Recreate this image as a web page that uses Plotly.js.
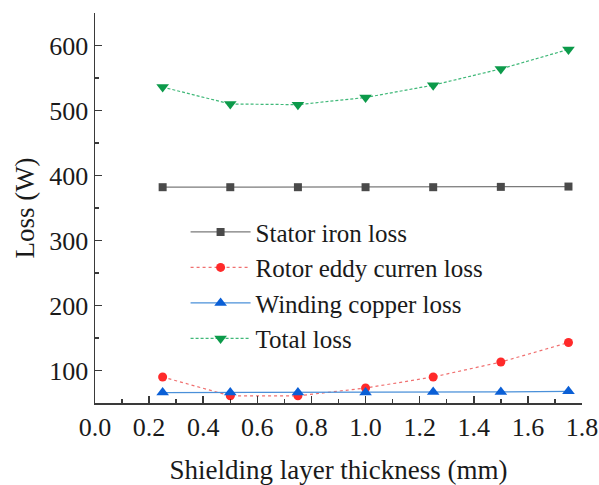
<!DOCTYPE html>
<html>
<head>
<meta charset="utf-8">
<script src="https://cdn.plot.ly/plotly-3.0.1.min.js"></script>
<style>html,body{margin:0;padding:0;background:#fff;}#chart{width:599px;height:485px;}</style>
</head>
<body>
<div id="chart"></div>
<script>
const thickness = [0.25, 0.5, 0.75, 1.0, 1.25, 1.5, 1.75];
const statorIronLoss = [382, 382, 382, 382, 382, 382.5, 383];
const rotorEddyLoss = [90, 61, 61, 73, 90, 113, 143];
const windingCopperLoss = [66, 66, 66, 66, 67, 67, 68];
const totalLoss = [536, 510, 509, 520, 539, 564, 594];
const seriesNames = ["Stator iron loss", "Rotor eddy curren loss", "Winding copper loss", "Total loss"];

const font = "'Liberation Serif', 'Times New Roman', serif";
const traces = [
  {x: thickness, y: statorIronLoss, name: seriesNames[0], mode: "lines+markers",
   line: {color: "#7a7a7a", width: 1.2}, marker: {symbol: "square", size: 8, color: "#4a4a4a"}},
  {x: thickness, y: rotorEddyLoss, name: seriesNames[1], mode: "lines+markers",
   line: {color: "#f07070", width: 1.2, dash: "dot"}, marker: {symbol: "circle", size: 9, color: "#ff2a2a"}},
  {x: thickness, y: windingCopperLoss, name: seriesNames[2], mode: "lines+markers",
   line: {color: "#4a90d9", width: 1.2}, marker: {symbol: "triangle-up", size: 11, color: "#0a5fd6"}},
  {x: thickness, y: totalLoss, name: seriesNames[3], mode: "lines+markers",
   line: {color: "#3fb878", width: 1.2, dash: "3px,2px"}, marker: {symbol: "triangle-down", size: 11, color: "#0c9a4a"}}
];

function axisCommon() {
  return {
    showgrid: false, zeroline: false, showline: true, linecolor: "#3a3a3a", linewidth: 1.5,
    ticks: "inside", ticklen: 7, tickwidth: 1.5, tickcolor: "#3a3a3a",
    tickfont: {family: font, size: 26, color: "#1a1a1a"}
  };
}

const layout = {
  width: 599, height: 485,
  font: {family: font, size: 26, color: "#1a1a1a"},
  margin: {l: 95, r: 17, t: 13, b: 82},
  paper_bgcolor: "#fff", plot_bgcolor: "#fff",
  showlegend: true,
  legend: {x: 0.186, y: 0.497, xanchor: "left", yanchor: "top", bgcolor: "rgba(0,0,0,0)",
           font: {family: font, size: 25, color: "#1a1a1a"}, itemwidth: 60, tracegroupgap: 0},
  xaxis: Object.assign(axisCommon(), {
    range: [0, 1.8], dtick: 0.2, tick0: 0, tickformat: ".1f",
    minor: {dtick: 0.1, ticks: "inside", ticklen: 4, tickcolor: "#3a3a3a", tickwidth: 1.5},
    title: {text: "Shielding layer thickness (mm)", font: {family: font, size: 27, color: "#1a1a1a"}, standoff: 22}
  }),
  yaxis: Object.assign(axisCommon(), {
    range: [50, 650], dtick: 100, tick0: 0,
    minor: {dtick: 50, ticks: "inside", ticklen: 4, tickcolor: "#3a3a3a", tickwidth: 1.5},
    title: {text: "Loss (W)", font: {family: font, size: 27, color: "#1a1a1a"}, standoff: 7}
  })
};

Plotly.newPlot("chart", traces, layout, {displayModeBar: false, staticPlot: true});
</script>
</body>
</html>
